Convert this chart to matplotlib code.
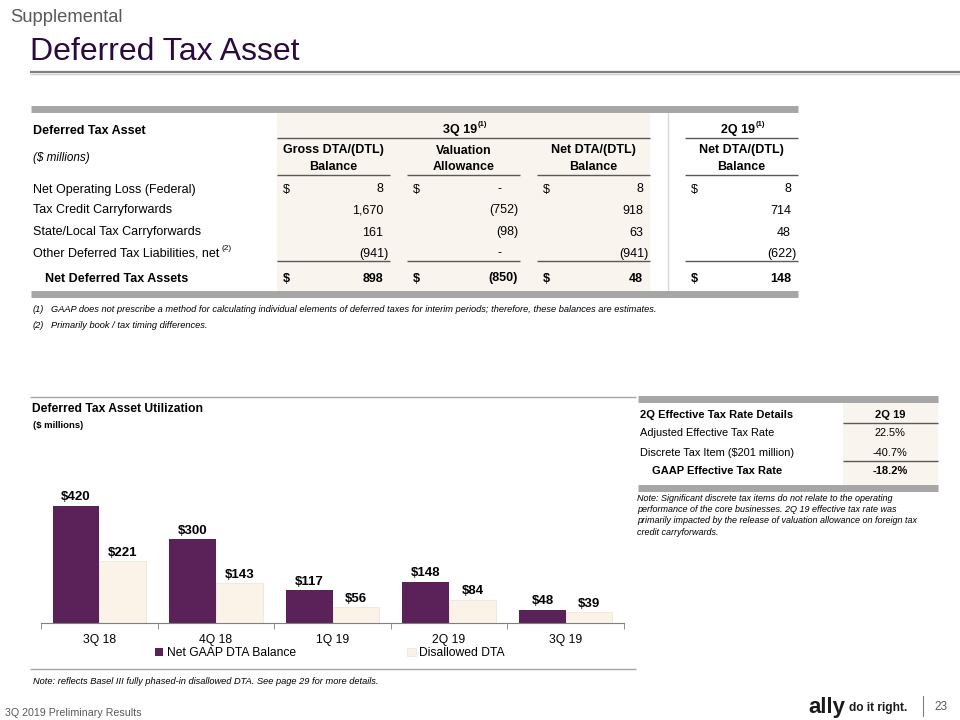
import matplotlib

matplotlib.use("Agg")
import matplotlib.pyplot as plt
import numpy as np
from matplotlib.patches import Rectangle

plt.rcParams["font.family"] = ["Liberation Sans", "DejaVu Sans"]

PURPLE = "#5b2159"
BEIGE = "#f9f4ee"
DISALLOWED = "#fbf2e8"
GRAY_BAR = "#a6a6a6"
DARK = "#000000"

# --- Data --------------------------------------------------------------------
quarters = ["3Q 18", "4Q 18", "1Q 19", "2Q 19", "3Q 19"]
net_gaap_dta = [420, 300, 117, 148, 48]
disallowed_dta = [221, 143, 56, 84, 39]

row_labels = ["Net Operating Loss (Federal)", "Tax Credit Carryforwards",
              "State/Local Tax Carryforwards", "Other Deferred Tax Liabilities, net"]
gross_dta = ["8", "1,670", "161", "(941)"]
valuation_allowance = ["-", "(752)", "(98)", "-"]
net_dta_3q = ["8", "918", "63", "(941)"]
net_dta_2q = ["8", "714", "48", "(622)"]
totals = ["898", "(850)", "48", "148"]

etr_labels = ["Adjusted Effective Tax Rate", "Discrete Tax Item ($201 million)"]
etr_values = ["22.5%", "-40.7%"]
etr_total = "-18.2%"

# --- Figure / overlay axes in pixel coordinates ------------------------------
fig = plt.figure(figsize=(9.6, 7.2), dpi=100)
ov = fig.add_axes([0, 0, 1, 1])
ov.set_xlim(0, 960)
ov.set_ylim(720, 0)
ov.axis("off")


def t(x, y, s, size=9, ha="left", weight="normal", style="normal", color=DARK, **kw):
    ov.text(x, y, s, fontsize=size, ha=ha, va="center_baseline", weight=weight,
            style=style, color=color, **kw)


def hline(x0, x1, y, lw=1.0, color="#595959"):
    ov.plot([x0, x1], [y, y], color=color, lw=lw, solid_capstyle="butt")


# header
t(10, 15, "Supplemental", size=13.2, color="#595959")
t(30, 48, "Deferred Tax Asset", size=23, color="#2b0b3f")
hline(30, 960, 72, lw=1.6, color="#7f7f7f")
hline(30, 960, 74, lw=1.0, color="#d0d0d0")

# --- Top table ----------------------------------------------------------------
ov.add_patch(Rectangle((277, 110), 373, 182, color=BEIGE, lw=0, zorder=0))
ov.plot([668, 668], [112, 292], color="#d9d9d9", lw=1)
hline(31, 798, 109, lw=5, color=GRAY_BAR)
hline(31, 798, 294, lw=5, color=GRAY_BAR)

t(33, 129, "Deferred Tax Asset", weight="bold")
t(33, 157, "($ millions)", style="italic", size=8.5)
t(477, 128, "3Q 19", ha="right", weight="bold")
t(478, 123, "(1)", size=5.5, weight="bold")
t(755, 128, "2Q 19", ha="right", weight="bold")
t(756, 123, "(1)", size=5.5, weight="bold")
hline(277, 650, 138)
hline(685, 798, 138)

col_x = [(277, 390), (407, 520), (537, 650), (685, 798)]
col_heads = [("Gross DTA/(DTL)", "Balance"), ("Valuation", "Allowance"),
             ("Net DTA/(DTL)", "Balance"), ("Net DTA/(DTL)", "Balance")]
for (x0, x1), (h1, h2) in zip(col_x, col_heads):
    xc = (x0 + x1) / 2
    t(xc, 149, h1, ha="center", weight="bold")
    t(xc, 166, h2, ha="center", weight="bold")
    hline(x0, x1, 175)
    hline(x0, x1, 261)


def value_x(x1, v):
    if v == "-":
        return x1 - 19
    if v.startswith("("):
        return x1 - 2
    return x1 - 7


row_y = [188, 209, 231, 252]
columns = [gross_dta, valuation_allowance, net_dta_3q, net_dta_2q]
for i, (lab, y) in enumerate(zip(row_labels, row_y)):
    t(33, y, lab)
    for (x0, x1), col in zip(col_x, columns):
        v = col[i]
        t(value_x(x1, v), y, v, ha="right")
        if i == 0:
            t(x0 + 6, y, "$")
t(222, 247, "(2)", size=6)

t(45, 277, "Net Deferred Tax Assets", weight="bold")
for (x0, x1), v in zip(col_x, totals):
    t(value_x(x1, v), 277, v, ha="right", weight="bold")
    t(x0 + 6, 277, "$", weight="bold")

t(33, 308, "(1)", size=6.7, style="italic")
t(51, 308, "GAAP does not prescribe a method for calculating individual elements of "
    "deferred taxes for interim periods; therefore, these balances are estimates.",
    size=6.7, style="italic")
t(33, 325, "(2)", size=6.7, style="italic")
t(51, 325, "Primarily book / tax timing differences.", size=6.7, style="italic")

# --- Bar chart ---------------------------------------------------------------
hline(30, 636, 397, lw=1, color="#a6a6a6")
t(32, 408, "Deferred Tax Asset Utilization", weight="bold", size=8.7)
t(33, 424, "($ millions)", size=6.8, weight="bold")

ax_left, ax_right, base_y, top_y = 41, 624, 623, 440
ax = fig.add_axes([ax_left / 960, (720 - base_y) / 720,
                   (ax_right - ax_left) / 960, (base_y - top_y) / 720])
x = np.arange(len(quarters))
w = 0.4
b1 = ax.bar(x - w / 2, net_gaap_dta, w, color=PURPLE, label="Net GAAP DTA Balance")
b2 = ax.bar(x + w / 2, disallowed_dta, w, color=DISALLOWED, edgecolor="#f1e6da",
            lw=0.6, label="Disallowed DTA")
for bars in (b1, b2):
    for r in bars:
        ax.text(r.get_x() + r.get_width() / 2, r.get_height() + 9,
                f"${r.get_height():.0f}", ha="center", va="bottom",
                fontsize=9.5, weight="bold")
ax.set_xlim(-0.5, len(quarters) - 0.5)
ax.set_ylim(0, (base_y - top_y) / 0.2786)
ax.set_yticks([])
for s in ("top", "right", "left"):
    ax.spines[s].set_visible(False)
ax.spines["bottom"].set_color("#7f7f7f")
ax.set_xticks(x)
ax.set_xticklabels(quarters, fontsize=8.7)
ax.tick_params(axis="x", length=0, pad=8)
ax.set_xticks(np.arange(-0.5, len(quarters)), minor=True)
ax.tick_params(axis="x", which="minor", length=4, color="#7f7f7f")
ax.patch.set_alpha(0)
fig.legend(handles=[b1, b2], loc="center",
           bbox_to_anchor=(330 / 960, 1 - 653 / 720), ncol=2, frameon=False,
           fontsize=8.7, handlelength=0.7, handleheight=0.7, handletextpad=0.3,
           columnspacing=9.2, borderaxespad=0, borderpad=0)

hline(30, 636, 669, lw=1, color="#a6a6a6")
t(33, 681, "Note: reflects Basel III fully phased-in disallowed DTA. See page 29 for more details.",
  size=6.7, style="italic")

# --- Right table: effective tax rate -----------------------------------------
ov.add_patch(Rectangle((843, 401), 95, 85, color=BEIGE, lw=0, zorder=0))
hline(638, 938, 399, lw=5, color=GRAY_BAR)
hline(638, 938, 488, lw=5, color=GRAY_BAR)
t(640, 414, "2Q Effective Tax Rate Details", weight="bold", size=8)
t(890, 414, "2Q 19", ha="center", weight="bold", size=8)
hline(843, 938, 423)
for lab, v, y in zip(etr_labels, etr_values, [432, 452]):
    t(640, y, lab, size=7.9)
    t(890, y, v, ha="center", size=7.9)
hline(843, 938, 461)
t(652, 470, "GAAP Effective Tax Rate", weight="bold", size=8)
t(890, 470, etr_total, ha="center", weight="bold", size=8)

note = ("Note: Significant discrete tax items do not relate to the operating\n"
        "performance of the core businesses. 2Q 19 effective tax rate was\n"
        "primarily impacted by the release of valuation allowance on foreign tax\n"
        "credit carryforwards.")
ov.text(637, 494, note, fontsize=6.5, style="italic", va="top", linespacing=1.32)

# --- Footer -------------------------------------------------------------------
t(5, 712, "3Q 2019 Preliminary Results", size=7.7, color="#595959")
t(808, 705, "ally", size=16, weight="bold", color="#1a1a1a")
t(849, 707, "do it right.", size=8.6, weight="bold", color="#1a1a1a")
ov.plot([923, 923], [696, 716], color="#7f7f7f", lw=0.8)
t(934, 706, "23", size=8.5, color="#595959")

fig.savefig("out.png", dpi=100)
